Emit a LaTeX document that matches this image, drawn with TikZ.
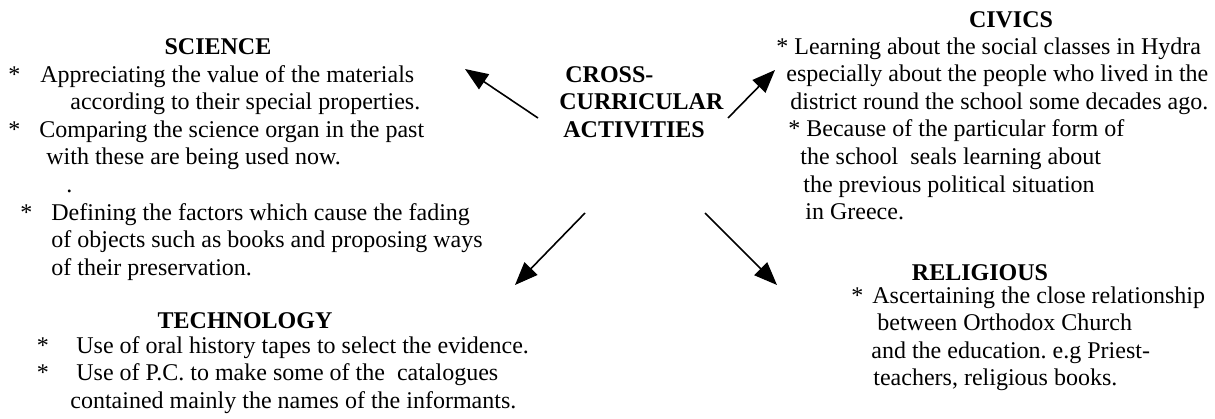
\documentclass[tikz,border=0pt]{standalone}
\usepackage{fontspec}
\setmainfont{Liberation Serif}
\usetikzlibrary{arrows.meta}
\frenchspacing

\begin{document}
\begin{tikzpicture}[
    x=0.5pt, y=-0.5pt,
    heading/.style={anchor=base, inner sep=0pt, font=\fontsize{12}{13.8}\selectfont\bfseries},
    body/.style={anchor=base west, inner sep=0pt, align=left, font=\fontsize{12}{13.8}\selectfont},
    arrow/.style={-{Triangle[length=11.5pt, width=9pt]}, line width=0.8pt}
]
\useasboundingbox (0,0) rectangle (1215,418);

% Centre (placed by the baseline of its last line)
\node[body, font=\fontsize{12}{13.8}\selectfont\bfseries] (cross) at (559,137.2)
    {\hspace*{3pt}CROSS-\\CURRICULAR\\\hspace*{2pt}ACTIVITIES};

% Headings
\node[heading] (science) at (218,54) {SCIENCE};
\node[heading] (civics) at (1011,27) {CIVICS};
\node[heading] (technology) at (245,328) {TECHNOLOGY};
\node[heading] (religious) at (980,280) {RELIGIOUS};

% Activities
\node[body] (sciencetext) at (0,275.2)
    {\hspace*{4pt}\makebox[16pt][l]{*}Appreciating the value of the materials\\
     \hspace*{35pt}according to their special properties.\\
     \hspace*{4pt}\makebox[15.5pt][l]{*}Comparing the science organ in the past\\
     \hspace*{23pt}with these are being used now.\\
     \hspace*{33pt}.\\
     \hspace*{10pt}\makebox[15.5pt][l]{*}Defining the factors which cause the fading\\
     \hspace*{25.5pt}of objects such as books and proposing ways\\
     \hspace*{25.5pt}of their preservation.};
\node[body] (civicstext) at (776,219.6)
    {* Learning about the social classes in Hydra\\
     \hspace*{5pt}especially about the people who lived in the\\
     \hspace*{7pt}district round the school some decades ago.\\
     \hspace*{6pt}* Because of the particular form of\\
     \hspace*{12pt}the school~ seals learning about\\
     \hspace*{13.5pt}the previous political situation\\
     \hspace*{14.5pt}in Greece.};
\node[body] (technologytext) at (0,408.2)
    {\hspace*{18.25pt}\makebox[19.75pt][l]{*}Use of oral history tapes to select the evidence.\\
     \hspace*{18.25pt}\makebox[19.75pt][l]{*}Use of P.C. to make some of the~ catalogues\\
     \hspace*{35pt}contained mainly the names of the informants.};
\node[body] (religioustext) at (851,385.8)
    {\makebox[10.5pt][l]{*}Ascertaining the close relationship\\
     \hspace*{13pt}between Orthodox Church\\
     \hspace*{10pt}and the education. e.g Priest-\\
     \hspace*{11pt}teachers, religious books.};

% Arrow ends
\coordinate (science tail) at (538,118);
\coordinate (science tip) at (465,69);
\coordinate (civics tail) at (728,118);
\coordinate (civics tip) at (775,70);
\coordinate (technology tail) at (585,213);
\coordinate (technology tip) at (515,285);
\coordinate (religious tail) at (705,213);
\coordinate (religious tip) at (777,285);

% Arrows
\draw[arrow] (science tail) -- (science tip);
\draw[arrow] (civics tail) -- (civics tip);
\draw[arrow] (technology tail) -- (technology tip);
\draw[arrow] (religious tail) -- (religious tip);

\end{tikzpicture}
\end{document}
